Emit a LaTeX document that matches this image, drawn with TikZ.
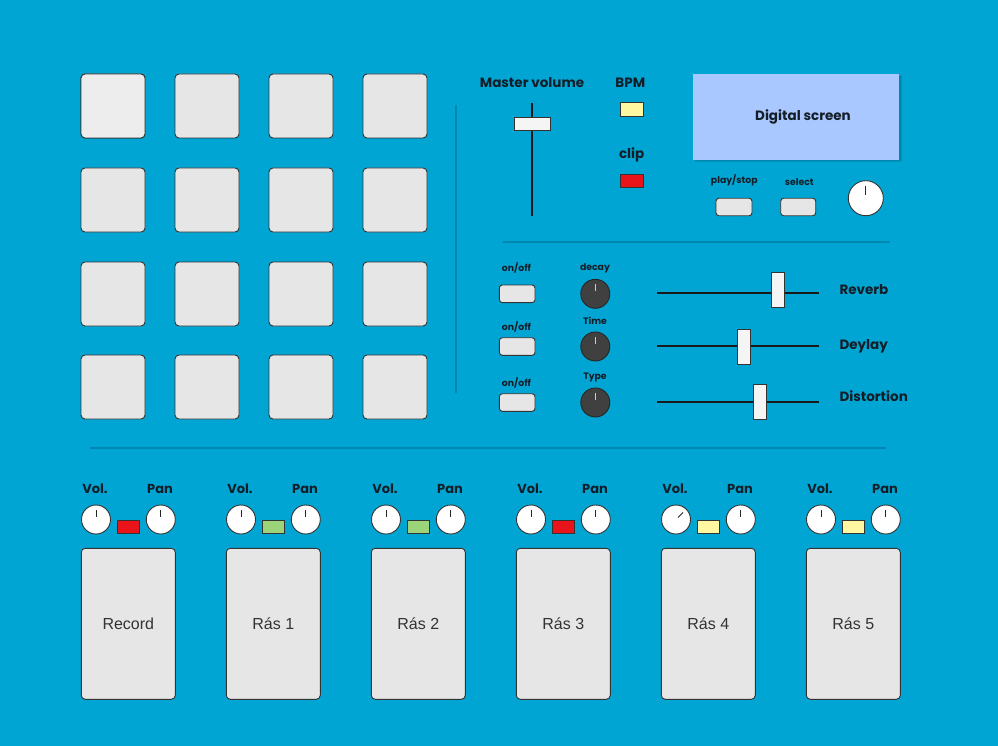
\documentclass[tikz,border=0pt]{standalone}
\usepackage{fontspec}
\setmainfont{Liberation Sans}
\newfontfamily\lblfont{Poppins}
\usetikzlibrary{shadows,calc}
\definecolor{bg}{HTML}{00A5D3}
\definecolor{sep}{HTML}{0087B0}
\definecolor{padfill}{HTML}{E6E6E6}
\definecolor{padline}{HTML}{333333}
\definecolor{lbltxt}{HTML}{141E28}
\definecolor{ledred}{HTML}{E8141A}
\definecolor{ledgreen}{HTML}{9CD47A}
\definecolor{ledyellow}{HTML}{FFF8A0}
\definecolor{screenfill}{HTML}{A8C8FF}
\definecolor{darkknob}{HTML}{404040}
\definecolor{shadowc}{HTML}{00506A}
\tikzset{
  pad/.style={draw=padline, line width=0.9pt, fill=padfill, rounded corners=4pt, minimum width=64pt, minimum height=64pt, inner sep=0pt},
  chpad/.style={draw=padline, line width=0.9pt, fill=padfill, rounded corners=4pt, minimum width=94pt, minimum height=151pt, inner sep=0pt, font=\fontsize{16}{18}\selectfont, text=padline},
  biglbl/.style={font=\lblfont\bfseries\fontsize{13.5}{16}\selectfont, text=lbltxt, inner sep=0pt},
  midlbl/.style={font=\lblfont\bfseries\fontsize{13}{15}\selectfont, text=lbltxt, inner sep=0pt},
  smalllbl/.style={font=\lblfont\bfseries\fontsize{9.3}{11}\selectfont, text=lbltxt, inner sep=0pt},
  btn/.style={draw=padline, line width=0.9pt, fill=padfill, rounded corners=3pt, minimum width=36pt, minimum height=17.5pt, inner sep=0pt},
  led/.style={draw=padline, line width=0.8pt, minimum width=22.5pt, minimum height=13.5pt, inner sep=0pt},
  knob/.style={circle, draw=padline, line width=0.9pt, fill=white, minimum size=29pt, inner sep=0pt},
  bigknob/.style={knob, minimum size=35pt},
  dknob/.style={circle, draw=black!85, line width=0.9pt, fill=darkknob, minimum size=29pt, inner sep=0pt},
  ind/.style={line width=0.9pt, draw=black!85},
  dind/.style={line width=0.9pt, draw=black!20},
  handle/.style={draw=padline, line width=0.9pt, fill=white!96!black, inner sep=0pt},
  track/.style={line width=2pt, draw=black!90},
  sepline/.style={line width=1.6pt, draw=sep},
}
\begin{document}
\begin{tikzpicture}[x=1pt,y=-1pt]
\fill[bg] (0,0) rectangle (998,746);
\useasboundingbox (0,0) rectangle (998,746);

% separators
\coordinate (vs1) at (456,105); \coordinate (vs2) at (456,393);
\draw[sepline] (vs1) -- (vs2);
\coordinate (hs1) at (503,242); \coordinate (hs2) at (890,242);
\draw[sepline] (hs1) -- (hs2);
\coordinate (bs1) at (90,448); \coordinate (bs2) at (886,448);
\draw[sepline] (bs1) -- (bs2);

% pad grid
\foreach \c/\x in {1/113,2/207,3/301,4/395}{
  \foreach \r/\y in {1/106,2/200,3/294,4/387}{
    \node[pad] (pad\c\r) at (\x,\y) {};
  }
}
\node[pad, fill=white!93!black] (pad11) at (113,106) {};

% master volume
\node[biglbl] (mvlbl) at (532,83) {Master volume};
\coordinate (mvt) at (531.7,103); \coordinate (mvb) at (531.7,215.7);
\draw[track] (mvt) -- (mvb);
\node[handle, minimum width=35.6pt, minimum height=12.6pt] (mvh) at (532.5,124) {};

% BPM / clip
\node[biglbl] (bpmlbl) at (630.3,83) {BPM};
\node[led, fill=ledyellow] (bpmled) at (631.8,109.3) {};
\node[biglbl] (cliplbl) at (631.7,155) {clip};
\node[led, fill=ledred] (clipled) at (631.8,181) {};

% digital screen (with soft shadow)
\fill[shadowc, opacity=0.18] (695,76.5) rectangle (901.5,162.5);
\fill[shadowc, opacity=0.22] (694.5,75.5) rectangle (900.5,161.2);
\node[draw=none, fill=screenfill, minimum width=206pt, minimum height=86pt, inner sep=0pt] (screen) at (796.2,117) {};
\node[biglbl] (screenlbl) at (803,117) {Digital screen};

\node[smalllbl] (pslbl) at (734.3,180) {play/stop};
\node[btn] (psbtn) at (734,207) {};
\node[smalllbl] (sellbl) at (799.3,182) {select};
\node[btn, minimum width=35pt] (selbtn) at (798.2,207) {};
\node[bigknob] (selknob) at (865.8,198.2) {};
\draw[ind] ($(selknob.center)+(0,-3)$) -- ($(selknob.center)+(0,-12)$);

% effects
\foreach \i/\ly/\by/\kl/\kly/\ky in {1/268/293.8/decay/268/293.8, 2/327/346.5/Time/321/346.5, 3/383/402.5/Type/377/402.5}{
  \node[smalllbl] (onofflbl\i) at (516.5,\ly) {on/off};
  \node[btn, minimum width=35.6pt, minimum height=17.6pt] (onoff\i) at (517.2,\by) {};
  \node[smalllbl] (fxlbl\i) at (595,\kly) {\kl};
  \node[dknob] (fxknob\i) at (595.3,\ky) {};
  \draw[dind] ($(fxknob\i.center)+(0,-3)$) -- ($(fxknob\i.center)+(0,-10)$);
}

% effect sliders
\foreach \i/\y/\ty/\name in {1/293/289.3/Reverb, 2/345.5/346/Deylay, 3/401.5/395.7/Distortion}{
  \coordinate (trl\i) at (657.3,\y); \coordinate (trr\i) at (819,\y);
  \draw[track] (trl\i) -- (trr\i);
  \node[biglbl, anchor=west] (fxname\i) at (839.3,\ty) {\name};
}
\node[handle, minimum width=12.7pt, minimum height=35pt] (fxh1) at (777.7,289.8) {};
\node[handle, minimum width=12.7pt, minimum height=35pt] (fxh2) at (743.7,346.5) {};
\node[handle, minimum width=12.7pt, minimum height=35pt] (fxh3) at (759.7,402.2) {};

% channel strips
\foreach \i/\col/\name in {0/ledred/Record, 1/ledgreen/Rás 1, 2/ledgreen/Rás 2, 3/ledred/Rás 3, 4/ledyellow/Rás 4, 5/ledyellow/Rás 5}{
  \pgfmathsetmacro{\xo}{145*\i}
  \node[midlbl] (vollbl\i) at (\xo+95,489) {Vol.};
  \node[midlbl] (panlbl\i) at (\xo+160,489) {Pan};
  \node[knob] (vol\i) at (\xo+96,519.5) {};
  \node[knob] (pan\i) at (\xo+160.8,519.5) {};
  \node[led, fill=\col] (chled\i) at (\xo+128.3,526.7) {};
  \node[chpad] (ch\i) at (\xo+128.3,623.8) {\name};
  \draw[ind] ($(pan\i.center)+(0,-3)$) -- ($(pan\i.center)+(0,-10)$);
}
\foreach \i in {0,1,2,3,5}{
  \draw[ind] ($(vol\i.center)+(0,-3)$) -- ($(vol\i.center)+(0,-10)$);
}
\draw[ind] ($(vol4.center)+(2,-2)$) -- ($(vol4.center)+(7,-7)$);
\end{tikzpicture}
\end{document}
